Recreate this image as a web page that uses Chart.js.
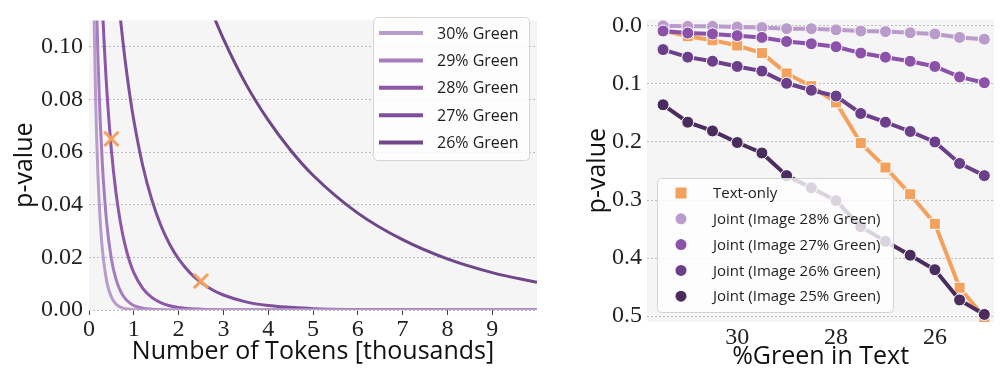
<!DOCTYPE html>
<html lang="en">
<head>
    <meta charset="UTF-8">
    <title>p-value vs tokens / %Green</title>
    <script src="https://cdn.jsdelivr.net/npm/chart.js"></script>
    <style>
        body { margin: 0; background: #ffffff; }
        .panel { position: absolute; top: 0; height: 375px; }
        #leftWrap { left: 0; width: 555px; }
        #rightWrap { left: 555px; width: 448px; }
    </style>
</head>
<body>
    <div class="panel" id="leftWrap"><canvas id="tokensChart"></canvas></div>
    <div class="panel" id="rightWrap"><canvas id="greenChart"></canvas></div>

    <script>
        // ---- left panel: p-value against number of tokens (thousands)
        const tokens = [0.05, 0.1, 0.15, 0.2, 0.25, 0.3, 0.4, 0.5, 0.6, 0.7, 0.8, 0.9, 1.0, 1.2, 1.4, 1.6, 1.8, 2.0, 2.25, 2.5, 2.75, 3, 3.5, 4, 4.5, 5, 6, 7, 8, 9, 10];
        const p30 = [0.207, 0.124, 0.0786, 0.0512, 0.0339, 0.0228, 0.0105, 0.0049, 0.0023, 0.0011, 0.0005, 0.0003, 0.0001, 0, 0, 0, 0, 0, 0, 0, 0, 0, 0, 0, 0, 0, 0, 0, 0, 0, 0];
        const p29 = [0.257, 0.178, 0.129, 0.0957, 0.0721, 0.0548, 0.0323, 0.0194, 0.0118, 0.0073, 0.0045, 0.0028, 0.0017, 0.0007, 0.0003, 0.0001, 0, 0, 0, 0, 0, 0, 0, 0, 0, 0, 0, 0, 0, 0, 0];
        const p28 = [0.312, 0.244, 0.198, 0.164, 0.137, 0.115, 0.0829, 0.0607, 0.0448, 0.0334, 0.025, 0.0188, 0.0142, 0.0082, 0.0048, 0.0028, 0.0016, 0.001, 0.0005, 0.0003, 0.0001, 0, 0, 0, 0, 0, 0, 0, 0, 0, 0];
        const p27 = [0.372, 0.322, 0.286, 0.257, 0.233, 0.212, 0.178, 0.151, 0.129, 0.111, 0.0957, 0.0829, 0.0721, 0.0548, 0.042, 0.0323, 0.025, 0.0194, 0.0142, 0.0105, 0.0077, 0.0057, 0.0031, 0.0017, 0.001, 0.0005, 0.0002, 0.0001, 0, 0, 0];
        const p26 = [0.435, 0.409, 0.389, 0.372, 0.358, 0.345, 0.322, 0.303, 0.286, 0.271, 0.257, 0.244, 0.233, 0.212, 0.194, 0.178, 0.164, 0.151, 0.137, 0.124, 0.113, 0.103, 0.0859, 0.0721, 0.0607, 0.0512, 0.0368, 0.0267, 0.0194, 0.0142, 0.0105];
        const curveLabels = ['30% Green', '29% Green', '28% Green', '27% Green', '26% Green'];
        const markX = [0.5, 2.5];
        const markY = [0.065, 0.011];
        const tokenTicks = [0, 1, 2, 3, 4, 5, 6, 7, 8, 9];
        const pTicksLeft = [0, 0.02, 0.04, 0.06, 0.08, 0.10];

        // ---- right panel: p-value against %Green in text
        const pctGreen = [31.5, 31, 30.5, 30, 29.5, 29, 28.5, 28, 27.5, 27, 26.5, 26, 25.5, 25];
        const textOnly = [0.008, 0.018, 0.025, 0.034, 0.047, 0.082, 0.104, 0.132, 0.202, 0.244, 0.290, 0.341, 0.451, 0.502];
        const img28 = [0.000, 0.001, 0.001, 0.002, 0.003, 0.005, 0.005, 0.007, 0.009, 0.010, 0.012, 0.014, 0.020, 0.023];
        const img27 = [0.009, 0.0125, 0.014, 0.017, 0.020, 0.027, 0.031, 0.036, 0.047, 0.054, 0.061, 0.070, 0.088, 0.098];
        const img26 = [0.041, 0.054, 0.061, 0.070, 0.078, 0.099, 0.111, 0.121, 0.151, 0.166, 0.182, 0.200, 0.237, 0.258];
        const img25 = [0.136, 0.166, 0.181, 0.201, 0.219, 0.258, 0.279, 0.301, 0.346, 0.371, 0.395, 0.420, 0.472, 0.497];
        const jointLabels = ['Text-only', 'Joint (Image 28% Green)', 'Joint (Image 27% Green)', 'Joint (Image 26% Green)', 'Joint (Image 25% Green)'];
        const pctTicks = [30, 28, 26];
        const pTicksRight = [0, 0.1, 0.2, 0.3, 0.4, 0.5];

        const curveColors = ['#b89ccb', '#a57cc0', '#8c57a8', '#7e509b', '#6e4689'];
        const jointColors = ['#f5a15e', '#b99bcc', '#8c52a9', '#6b3f8a', '#4b2c5e'];
        const orange = '#f5a15e';

        const tickFont = { family: '"Liberation Serif", serif', size: 24 };
        const titleFont = { family: '"Open Sans", Lato, sans-serif', size: 25 };

        const pts = (xs, ys) => xs.map((x, i) => ({ x: x, y: ys[i] }));
        const fixTicks = list => scale => { scale.ticks = list.map(v => ({ value: v })); };

        // light grey plot background
        const plotBg = {
            id: 'plotBg',
            beforeDraw(chart) {
                const a = chart.chartArea;
                chart.ctx.save();
                chart.ctx.fillStyle = '#f5f5f5';
                chart.ctx.fillRect(a.left, a.top, a.right - a.left, a.bottom - a.top);
                chart.ctx.restore();
            }
        };

        // framed legend placed by hand, drawn over the data
        const boxLegend = {
            id: 'boxLegend',
            afterDatasetsDraw(chart, args, o) {
                const ctx = chart.ctx;
                ctx.save();
                ctx.fillStyle = 'rgba(255,255,255,0.8)';
                ctx.strokeStyle = '#d4d4d4';
                ctx.lineWidth = 1;
                ctx.beginPath();
                if (ctx.roundRect) ctx.roundRect(o.x + 0.5, o.y + 0.5, o.w, o.h, 4);
                else ctx.rect(o.x + 0.5, o.y + 0.5, o.w, o.h);
                ctx.fill();
                ctx.stroke();
                ctx.font = o.font;
                ctx.textBaseline = 'middle';
                o.items.forEach((idx, k) => {
                    const ds = chart.data.datasets[idx];
                    const y = o.y + o.first + k * o.step;
                    if (o.kind === 'line') {
                        ctx.strokeStyle = ds.borderColor;
                        ctx.lineWidth = 4;
                        ctx.beginPath();
                        ctx.moveTo(o.x + o.sx, y);
                        ctx.lineTo(o.x + o.sx + o.sl, y);
                        ctx.stroke();
                    } else {
                        ctx.fillStyle = ds.pointBackgroundColor;
                        ctx.beginPath();
                        if (ds.pointStyle === 'rect') ctx.rect(o.x + o.sx - 5.5, y - 5.5, 11, 11);
                        else ctx.arc(o.x + o.sx, y, 5.5, 0, Math.PI * 2);
                        ctx.fill();
                    }
                    ctx.fillStyle = '#1e1e1e';
                    ctx.fillText(ds.label, o.x + o.tx, y + 1);
                });
                ctx.restore();
            }
        };

        // Left chart
        const curves = [p30, p29, p28, p27, p26].map((ys, i) => ({
            label: curveLabels[i],
            data: pts(tokens, ys),
            borderColor: curveColors[i],
            borderWidth: 3,
            pointRadius: 0,
            cubicInterpolationMode: 'monotone',
            order: 1
        }));
        curves.push({
            label: 'marks',
            data: pts(markX, markY),
            showLine: false,
            pointStyle: 'crossRot',
            pointRadius: 10,
            borderColor: orange,
            pointBorderWidth: 3,
            order: 0
        });

        new Chart(document.getElementById('tokensChart'), {
            type: 'line',
            data: { datasets: curves },
            plugins: [plotBg, boxLegend],
            options: {
                responsive: true,
                maintainAspectRatio: false,
                animation: false,
                layout: { padding: { top: 7, right: 18, left: 0, bottom: 0 } },
                plugins: {
                    legend: { display: false },
                    tooltip: { enabled: false },
                    boxLegend: {
                        x: 373, y: 17, w: 156, h: 143, first: 16, step: 27.4,
                        sx: 6, sl: 44, tx: 64, kind: 'line',
                        font: '16px "Open Sans", Lato, sans-serif',
                        items: [0, 1, 2, 3, 4]
                    }
                },
                scales: {
                    x: {
                        type: 'linear', min: 0, max: 10,
                        afterBuildTicks: fixTicks(tokenTicks),
                        afterFit: s => { s.height = 65; },
                        grid: { drawOnChartArea: false, drawTicks: true, tickLength: 5, color: '#444' },
                        border: { display: false },
                        ticks: { font: tickFont, color: '#222', padding: 0, maxRotation: 0, callback: v => String(v) },
                        title: { display: true, text: 'Number of Tokens [thousands]', font: titleFont, color: '#111', padding: { top: 0, bottom: 8 } }
                    },
                    y: {
                        min: 0, max: 0.11,
                        afterBuildTicks: fixTicks(pTicksLeft),
                        afterFit: s => { s.width = 89; },
                        grid: { color: '#bcbcbc', lineWidth: 1, drawTicks: false },
                        border: { display: false, dash: [2, 2] },
                        ticks: { font: tickFont, color: '#222', padding: 6, callback: v => v.toFixed(2) },
                        title: { display: true, text: 'p-value', font: titleFont, color: '#111', padding: { top: 10, bottom: 0 } }
                    }
                }
            }
        });

        // Right chart
        const jointSeries = [textOnly, img28, img27, img26, img25];
        const jointSets = jointSeries.map((ys, i) => ({
            label: jointLabels[i],
            data: pts(pctGreen, ys),
            borderColor: jointColors[i],
            backgroundColor: jointColors[i],
            pointBackgroundColor: jointColors[i],
            pointBorderColor: '#ffffff',
            pointBorderWidth: 1,
            pointStyle: i === 0 ? 'rect' : 'circle',
            pointRadius: i === 0 ? 7.8 : 6,
            borderWidth: 4,
            tension: 0,
            order: 5 - i
        }));

        new Chart(document.getElementById('greenChart'), {
            type: 'line',
            data: { datasets: jointSets },
            plugins: [plotBg, boxLegend],
            options: {
                responsive: true,
                maintainAspectRatio: false,
                animation: false,
                layout: { padding: { top: 4, right: 0, left: 0, bottom: 0 } },
                plugins: {
                    legend: { display: false },
                    tooltip: { enabled: false },
                    boxLegend: {
                        x: 102, y: 178, w: 236, h: 134, first: 15, step: 25.8,
                        sx: 24, tx: 56, kind: 'point',
                        font: '15px "Open Sans", Lato, sans-serif',
                        items: [0, 1, 2, 3, 4]
                    }
                },
                scales: {
                    x: {
                        type: 'linear', min: 24.8, max: 31.825, reverse: true,
                        afterBuildTicks: fixTicks(pctTicks),
                        afterFit: s => { s.height = 53; },
                        grid: { display: true, drawOnChartArea: false, drawTicks: false },
                        border: { display: false },
                        ticks: { font: tickFont, color: '#222', padding: 1, maxRotation: 0, callback: v => String(v) },
                        title: { display: true, text: '%Green in Text', font: titleFont, color: '#111', padding: { top: 0, bottom: 3 } }
                    },
                    y: {
                        min: -0.011, max: 0.51, reverse: true,
                        afterBuildTicks: fixTicks(pTicksRight),
                        afterFit: s => { s.width = 92; },
                        grid: { color: '#bcbcbc', lineWidth: 1, drawTicks: false },
                        border: { display: false, dash: [2, 2] },
                        ticks: { font: tickFont, color: '#222', padding: 5, callback: v => v.toFixed(1) },
                        title: { display: true, text: 'p-value', font: titleFont, color: '#111', padding: { top: 28, bottom: 0 } }
                    }
                }
            }
        });
    </script>
</body>
</html>
